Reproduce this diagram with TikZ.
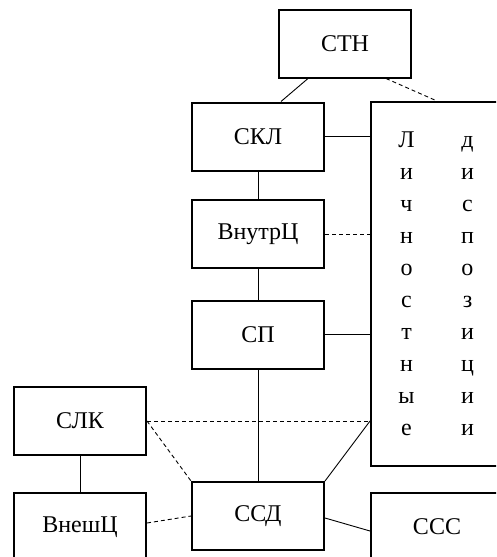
\documentclass[tikz,border=0pt]{standalone}
\usepackage{fontspec}
\setmainfont{Liberation Serif}
\newcommand{\lpair}[2]{\makebox[0pt]{#1}\hspace{61pt}\makebox[0pt]{#2}}
\begin{document}
\begin{tikzpicture}[
  x=1pt, y=-1pt,
  every node/.style={font=\fontsize{24}{28}\selectfont},
  box/.style={draw, line width=2pt, minimum width=132pt, minimum height=68pt, inner sep=0pt},
  tall/.style={box, minimum height=364pt, align=center, font=\fontsize{24}{32}\selectfont},
  link/.style={line width=0.9pt},
  dlink/.style={link, dash pattern=on 4pt off 3pt}
]
\clip (0,0) rectangle (496,557);
\fill[white] (0,0) rectangle (496,557);
\node[box] (stn) at (345,43.5) {СТН};
\node[box] (skl) at (258,136.5) {СКЛ};
\node[box] (vnutr) at (258,234) {ВнутрЦ};
\node[box] (sp) at (258,334.5) {СП};
\node[box] (ssd) at (258,516) {ССД};
\node[box] (slk) at (80,421) {СЛК};
\node[box] (vnesh) at (80,527) {ВнешЦ};
\node[box] (sss) at (437,527) {ССС};
\node[tall] (disp) at (437,284) {\lpair{Л}{д}\\\lpair{и}{и}\\\lpair{ч}{с}\\\lpair{н}{п}\\\lpair{о}{о}\\\lpair{с}{з}\\\lpair{т}{и}\\\lpair{н}{ц}\\\lpair{ы}{и}\\\lpair{е}{и}};
\draw[link] ([xshift=-37pt]stn.south) -- ([xshift=23pt]skl.north);
\draw[dlink] ([xshift=41pt]stn.south) -- (disp.north);
\draw[link] (skl.east) -- (skl.east -| disp.west);
\draw[link] (skl) -- (vnutr);
\draw[dlink] (vnutr.east) -- (vnutr.east -| disp.west);
\draw[link] (vnutr) -- (sp);
\draw[link] (sp.east) -- (sp.east -| disp.west);
\draw[link] (sp) -- (ssd);
\draw[dlink] (slk.east) -- (slk.east -| disp.west);
\draw[dlink] (slk.east) -- (ssd.north west);
\draw[link] (slk.east -| disp.west) -- (ssd.north east);
\draw[link] (slk) -- (vnesh);
\draw[dlink] ([yshift=4pt]vnesh.east) -- (ssd.west);
\draw[link] ([yshift=-2pt]ssd.east) -- ([yshift=-4pt]sss.west);
\end{tikzpicture}
\end{document}
